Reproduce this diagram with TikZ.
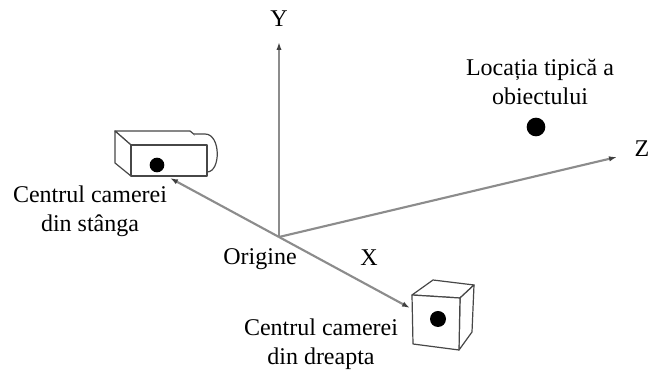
\documentclass[tikz,border=0pt]{standalone}
\usepackage{fontspec}
\setmainfont{Liberation Serif}
\usetikzlibrary{arrows.meta}
\begin{document}
\begin{tikzpicture}[x=0.75pt,y=-0.75pt,
  axis/.style={draw=black!45,line width=1.6pt},
  tip/.style={-{Latex[length=6pt,width=4pt,fill=black!75,color=black!75]}},
  cam/.style={draw=black!72,line width=0.9pt,line join=round,fill=white},
  lbl/.style={font=\fontsize{18}{22}\selectfont,inner sep=0pt,align=center},
  spot/.style={circle,fill=black,inner sep=0pt}]
\useasboundingbox (0,0) rectangle (651,373);

% reference points
\coordinate (O) at (279,237);
\coordinate (Ytop) at (279,42);
\coordinate (Zend) at (617,157);
\coordinate (Lend) at (170,178);
\coordinate (Rend) at (410,308);

% left camera
\draw[cam] (115,131) -- (190,131) -- (207,145) -- (131,145) -- cycle;
\draw[cam] (115,131) -- (131,145) -- (131,176) -- (115,163) -- cycle;
\draw[cam] (194,134) -- (205,134) .. controls (221,134) and (221,172) .. (207,172);
\draw[cam] (131,145) rectangle (207,176);
\node[spot,minimum size=11pt] (dotL) at (157,165) {};

% right camera
\draw[cam] (412,295) -- (433,280) -- (474,285) -- (460,298) -- cycle;
\draw[cam] (460,298) -- (474,285) -- (472,332) -- (459,350) -- cycle;
\draw[cam] (412,295) -- (460,298) -- (459,350) -- (413,344) -- cycle;
\node[spot,minimum size=12pt] (dotR) at (438,319) {};

% axes
\draw[axis,tip] (O) -- (Ytop);
\draw[axis,tip] (O) -- (Zend);
\draw[axis,tip] (O) -- (Lend);
\draw[axis,tip] (O) -- (Rend);

% object location
\node[spot,minimum size=14pt] (obj) at (536,127) {};

% labels
\node[lbl,anchor=base] (ly) at (279,27) {Y};
\node[lbl,anchor=base] (lz) at (642,157) {Z};
\node[lbl,anchor=base] (lx) at (369,266) {X};
\node[lbl,anchor=base] (lo) at (260,265) {Origine};
\node[lbl] (lcl) at (90,211) {Centrul camerei\\din stânga};
\node[lbl] (lcr) at (321,344) {Centrul camerei\\din dreapta};
\node[lbl] (lobj) at (540,82) {Locația tipică a\\obiectului};
\end{tikzpicture}
\end{document}
